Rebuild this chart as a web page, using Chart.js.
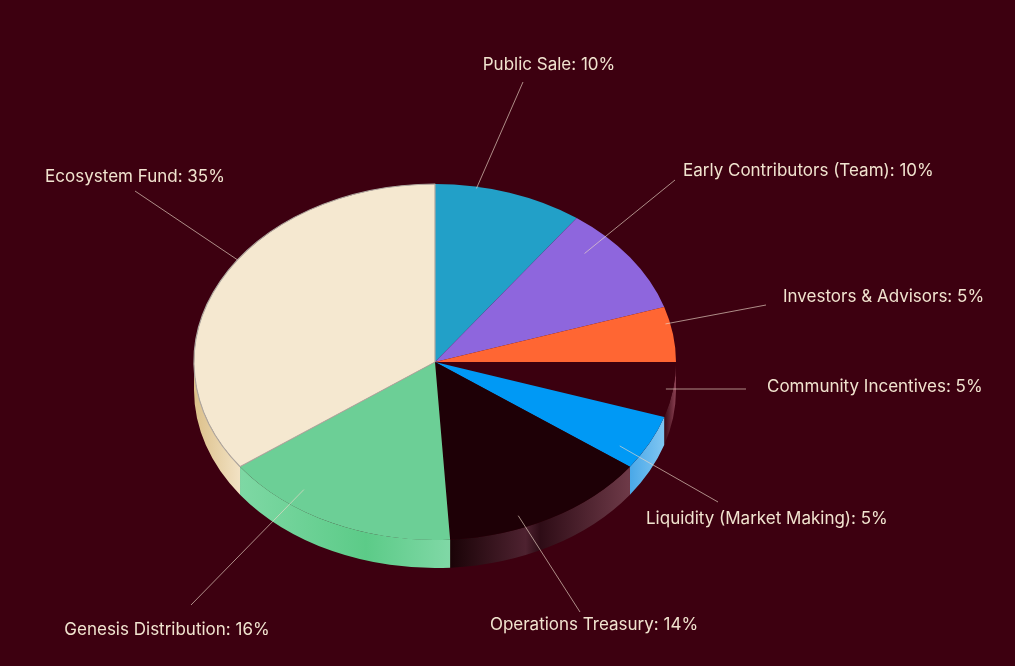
<!DOCTYPE html>
<html>
<head>
<meta charset="utf-8">
<script src="https://cdn.jsdelivr.net/npm/chart.js@4/dist/chart.umd.min.js"></script>
<style>
  html, body { margin: 0; padding: 0; background: #3d0010; }
  #wrap { width: 1015px; height: 666px; position: relative; }
</style>
</head>
<body>
<div id="wrap"><canvas id="pie"></canvas></div>
<script>
// data
var categories = ['Public Sale', 'Early Contributors (Team)', 'Investors & Advisors', 'Community Incentives',
                  'Liquidity (Market Making)', 'Operations Treasury', 'Genesis Distribution', 'Ecosystem Fund'];
var shares = [10, 10, 5, 5, 5, 14, 16, 35];

// styles
var topColors = ['#22a0c8', '#8e66dd', '#ff6633', '#3b000f', '#0099f5', '#1e0006', '#6ccf96', '#f5e8d0'];
var wallStops = [
    [[0, '#1a88b0'], [1, '#3ab0d8']],
    [[0, '#7650c8'], [1, '#a07ee6']],
    [[0, '#e05020'], [1, '#ff7a4a']],
    [[0, '#3a0814'], [1, '#8a4052']],
    [[0, '#4aa8e8'], [1, '#80c6f2']],
    [[0, '#1a0307'], [0.42, '#4e2230'], [0.5, '#2e0c16'], [1, '#6e3a48']],
    [[0, '#7ed8a4'], [0.6, '#5ccb88'], [1, '#80d8a6']],
    [[0, '#dcc08a'], [1, '#f2e2c4']]
];
// label layout: text x, y, align, leader end x, y, leader start angle shift (deg), start radius fraction
var labelLayout = [
    [549, 65, 'center', 523, 82, -8, 0.99],
    [683, 171, 'left', 675, 180, -8.5, 0.87],
    [783, 297, 'left', 766, 305, -3.6, 0.98],
    [767, 387, 'left', 746, 389, 0, 0.97],
    [646, 519, 'left', 718, 502, 4.6, 0.9],
    [594, 625, 'center', 580, 612, 7, 0.93],
    [167, 630, 'center', 191, 605, 12, 0.9],
    [135, 177, 'center', 135, 191, 8, 1.0]
];

var pieCx = 435, pieCy = 362, rx = 241, ry = 178, depth = 28;

function ellipsePos(a, f) {
    return [pieCx + rx * f * Math.cos(a), pieCy + ry * f * Math.sin(a)];
}

var pie3d = {
    id: 'pie3d',
    beforeDatasetsDraw: function(chart) {
        var ctx = chart.ctx;
        var arcs = chart.getDatasetMeta(0).data;
        // side walls, only the front half is visible
        arcs.forEach(function(arc, i) {
            var a0 = Math.max(arc.startAngle, 0);
            var a1 = Math.min(arc.endAngle, Math.PI);
            if (a1 <= a0) return;
            var xr = pieCx + rx * Math.cos(a0);
            var xl = pieCx + rx * Math.cos(a1);
            var grad = ctx.createLinearGradient(xl, 0, xr, 0);
            wallStops[i].forEach(function(s) { grad.addColorStop(s[0], s[1]); });
            ctx.save();
            ctx.beginPath();
            ctx.ellipse(pieCx, pieCy, rx, ry, 0, a0, a1, false);
            ctx.ellipse(pieCx, pieCy + depth, rx, ry, 0, a1, a0, true);
            ctx.closePath();
            ctx.fillStyle = grad;
            ctx.fill();
            ctx.restore();
        });
        // squash the circle into the tilted top surface
        var first = arcs[0];
        ctx.save();
        ctx.translate(pieCx, pieCy);
        ctx.scale(rx / first.outerRadius, ry / first.outerRadius);
        ctx.translate(-first.x, -first.y);
    },
    afterDatasetsDraw: function(chart) {
        chart.ctx.restore();
    },
    afterDraw: function(chart) {
        var ctx = chart.ctx;
        var arcs = chart.getDatasetMeta(0).data;
        ctx.save();
        ctx.font = '17px Inter, "Noto Sans", sans-serif';
        ctx.textBaseline = 'middle';
        arcs.forEach(function(arc, i) {
            var lay = labelLayout[i];
            var mid = (arc.startAngle + arc.endAngle) / 2 + lay[5] * Math.PI / 180;
            var p = ellipsePos(mid, lay[6]);
            ctx.strokeStyle = 'rgba(235, 215, 200, 0.65)';
            ctx.lineWidth = 1;
            ctx.beginPath();
            ctx.moveTo(p[0], p[1]);
            ctx.lineTo(lay[3], lay[4]);
            ctx.stroke();
            ctx.fillStyle = '#f1e3cf';
            ctx.textAlign = lay[2];
            ctx.fillText(categories[i] + ': ' + shares[i] + '%', lay[0], lay[1]);
        });
        ctx.restore();
    }
};

new Chart(document.getElementById('pie'), {
    type: 'pie',
    data: {
        labels: categories,
        datasets: [{
            data: shares,
            backgroundColor: topColors,
            borderColor: ['#22a0c8', '#8e66dd', '#ff6633', '#3b000f', '#0099f5', '#1e0006', '#6ccf96', '#b0a8a0'],
            borderWidth: [0, 0, 0, 0, 0, 0, 0, 1.2],
            hoverOffset: 0
        }]
    },
    options: {
        responsive: true,
        maintainAspectRatio: false,
        animation: false,
        layout: { padding: { top: 92, bottom: 92, left: 0, right: 145 } },
        plugins: {
            legend: { display: false },
            tooltip: { enabled: false }
        }
    },
    plugins: [pie3d]
});
</script>
</body>
</html>
